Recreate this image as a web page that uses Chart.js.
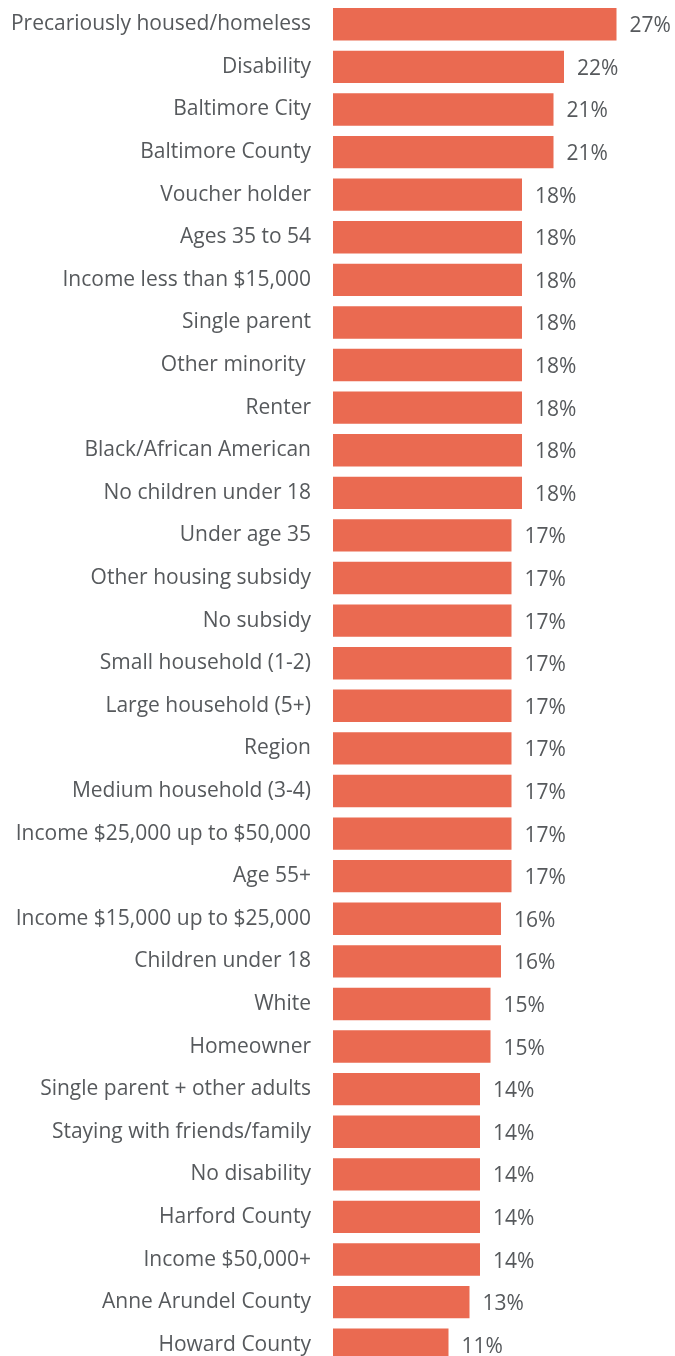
<!DOCTYPE html>
<html>
<head>
<meta charset="utf-8">
<script src="https://cdn.jsdelivr.net/npm/chart.js@4/dist/chart.umd.min.js"></script>
<style>
    html, body { margin: 0; padding: 0; background: #fff; overflow: hidden; }
    #wrap { position: relative; width: 675px; height: 1370px; }
</style>
</head>
<body>
<div id="wrap"><canvas id="chart"></canvas></div>
<script>
// Категории и значения (в процентах)
const categories = [
    'Precariously housed/homeless', 'Disability', 'Baltimore City', 'Baltimore County',
    'Voucher holder', 'Ages 35 to 54', 'Income less than $15,000', 'Single parent',
    'Other minority ', 'Renter', 'Black/African American', 'No children under 18',
    'Under age 35', 'Other housing subsidy', 'No subsidy', 'Small household (1-2)',
    'Large household (5+)', 'Region', 'Medium household (3-4)', 'Income $25,000 up to $50,000',
    'Age 55+', 'Income $15,000 up to $25,000', 'Children under 18', 'White',
    'Homeowner', 'Single parent + other adults', 'Staying with friends/family', 'No disability',
    'Harford County', 'Income $50,000+', 'Anne Arundel County', 'Howard County'
];
const values = [
    27, 22, 21, 21,
    18, 18, 18, 18,
    18, 18, 18, 18,
    17, 17, 17, 17,
    17, 17, 17, 17,
    17, 16, 16, 15,
    15, 14, 14, 14,
    14, 14, 13, 11
];

const barColor = '#EA6A51';
const textColor = '#56595c';
const fontFamily = '"Open Sans", "Noto Sans", sans-serif';

// Подписи значений справа от столбцов
const valueLabels = {
    id: 'valueLabels',
    afterDatasetsDraw(chart) {
        const ctx = chart.ctx;
        const meta = chart.getDatasetMeta(0);
        ctx.save();
        ctx.font = '21px ' + fontFamily;
        ctx.fillStyle = textColor;
        ctx.textAlign = 'left';
        ctx.textBaseline = 'middle';
        meta.data.forEach((bar, i) => {
            ctx.fillText(values[i] + '%', bar.x + 13, bar.y + 2);
        });
        ctx.restore();
    }
};

new Chart(document.getElementById('chart'), {
    type: 'bar',
    data: {
        labels: categories,
        datasets: [{
            data: values,
            backgroundColor: barColor,
            borderWidth: 0,
            barPercentage: 0.76,
            categoryPercentage: 1
        }]
    },
    options: {
        indexAxis: 'y',
        responsive: true,
        maintainAspectRatio: false,
        animation: false,
        layout: {
            padding: { top: 3, bottom: 4, left: 0, right: 27 }
        },
        plugins: {
            legend: { display: false },
            tooltip: { enabled: false }
        },
        scales: {
            x: {
                min: 0,
                max: 30,
                display: false
            },
            y: {
                afterFit(scale) {
                    scale.width = 333;
                    // убираем лишние отступы сверху/снизу от подписей
                    scale.paddingTop = 0;
                    scale.paddingBottom = 0;
                },
                grid: { display: false, drawTicks: false },
                border: { display: false },
                ticks: {
                    padding: 22,
                    labelOffset: 0,
                    color: textColor,
                    font: { family: fontFamily, size: 21 },
                    autoSkip: false
                }
            }
        }
    },
    plugins: [valueLabels]
});
</script>
</body>
</html>
